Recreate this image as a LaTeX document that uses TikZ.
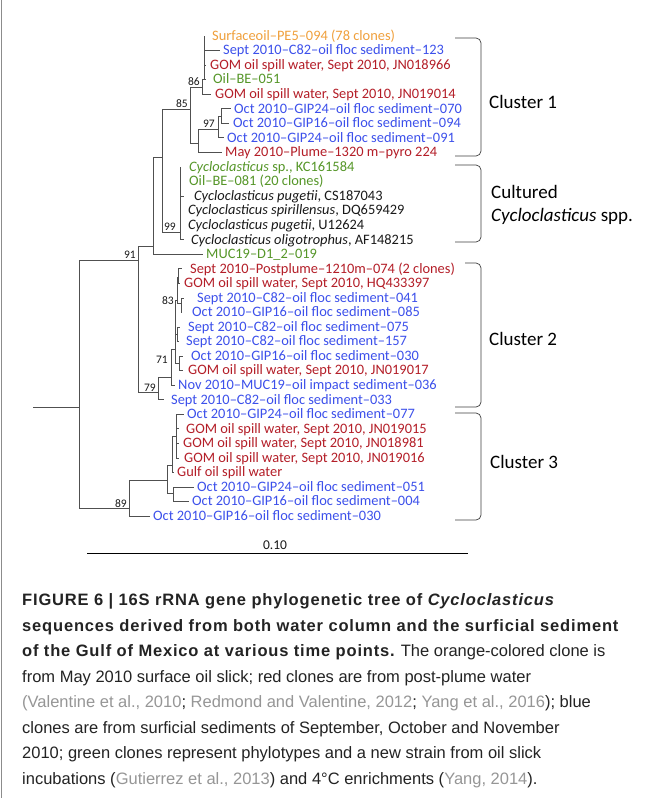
\documentclass[tikz,border=0pt]{standalone}
\usepackage{fontspec}
\setmainfont{Liberation Sans}
\newfontfamily\capbold{Liberation Sans}[LetterSpace=5.0]
\newfontfamily\treefont{Carlito}
\newfontfamily\clfont{Carlito}
\definecolor{tor}{RGB}{240,160,60}
\definecolor{tbl}{RGB}{60,80,235}
\definecolor{trd}{RGB}{180,30,40}
\definecolor{tgr}{RGB}{85,150,40}
\definecolor{tbk}{RGB}{25,25,25}
\definecolor{lin}{RGB}{80,80,80}
\definecolor{captxt}{RGB}{35,35,35}
\definecolor{capgray}{RGB}{150,150,150}
\tikzset{
  br/.style={draw=lin, line width=0.75pt},
  lab/.style={anchor=base west, inner sep=0pt, font=\treefont\fontsize{14.4}{16}\selectfont},
  bs/.style={anchor=base east, inner sep=0pt, font=\treefont\fontsize{11.5}{13}\selectfont, text=tbk},
  brk/.style={draw=black!75, line width=0.7pt},
  cltext/.style={anchor=base west, inner sep=0pt, font=\clfont\fontsize{19}{22}\selectfont, text=black},
  captext/.style={anchor=base west, inner sep=0pt, font=\fontsize{16.5}{20}\selectfont, text=captxt},
}
\begin{document}
\begin{tikzpicture}[x=1pt,y=-1pt]
\useasboundingbox (0,0) rectangle (659,798);
\fill[white] (0,0) rectangle (659,798);
\draw[black!45, line width=0.8pt] (1,0) -- (1,798);
% ---------- tip labels ----------
\node[lab,text=tor] (t0) at (212,40.3) {Surfaceoil–PE5–094 (78 clones)};
\node[lab,text=tbl] (t1) at (223,54.85) {Sept 2010–C82–oil floc sediment–123};
\node[lab,text=trd] (t2) at (210,69.4) {GOM oil spill water, Sept 2010, JN018966};
\node[lab,text=tgr] (t3) at (213,83.95) {Oil–BE–051};
\node[lab,text=trd] (t4) at (215,98.5) {GOM oil spill water, Sept 2010, JN019014};
\node[lab,text=tbl] (t5) at (234,113.05) {Oct 2010–GIP24–oil floc sediment–070};
\node[lab,text=tbl] (t6) at (233,127.6) {Oct 2010–GIP16–oil floc sediment–094};
\node[lab,text=tbl] (t7) at (227,142.15) {Oct 2010–GIP24–oil floc sediment–091};
\node[lab,text=trd] (t8) at (225,156.7) {May 2010–Plume–1320 m–pyro 224};
\node[lab,text=tgr] (t9) at (189,171.25) {\itshape Cycloclasticus\upshape\ sp., KC161584};
\node[lab,text=tgr] (t10) at (189,185.8) {Oil–BE–081 (20 clones)};
\node[lab,text=tbk] (t11) at (194,200.35) {\itshape Cycloclasticus pugetii\upshape, CS187043};
\node[lab,text=tbk] (t12) at (188,214.9) {\itshape Cycloclasticus spirillensus\upshape, DQ659429};
\node[lab,text=tbk] (t13) at (188,229.45) {\itshape Cycloclasticus pugetii\upshape, U12624};
\node[lab,text=tbk] (t14) at (191,244.0) {\itshape Cycloclasticus oligotrophus\upshape, AF148215};
\node[lab,text=tgr] (t15) at (206,258.55) {MUC19–D1\_2–019};
\node[lab,text=trd] (t16) at (190,273.1) {Sept 2010–Postplume–1210m–074 (2 clones)};
\node[lab,text=trd] (t17) at (184,287.65) {GOM oil spill water, Sept 2010, HQ433397};
\node[lab,text=tbl] (t18) at (197,302.2) {Sept 2010–C82–oil floc sediment–041};
\node[lab,text=tbl] (t19) at (192,316.75) {Oct 2010–GIP16–oil floc sediment–085};
\node[lab,text=tbl] (t20) at (188,331.3) {Sept 2010–C82–oil floc sediment–075};
\node[lab,text=tbl] (t21) at (186,345.85) {Sept 2010–C82–oil floc sediment–157};
\node[lab,text=tbl] (t22) at (191,360.4) {Oct 2010–GIP16–oil floc sediment–030};
\node[lab,text=trd] (t23) at (188,374.95) {GOM oil spill water, Sept 2010, JN019017};
\node[lab,text=tbl] (t24) at (178,389.5) {Nov 2010–MUC19–oil impact sediment–036};
\node[lab,text=tbl] (t25) at (171,404.05) {Sept 2010–C82–oil floc sediment–033};
\node[lab,text=tbl] (t26) at (187,418.6) {Oct 2010–GIP24–oil floc sediment–077};
\node[lab,text=trd] (t27) at (186,433.15) {GOM oil spill water, Sept 2010, JN019015};
\node[lab,text=trd] (t28) at (183,447.7) {GOM oil spill water, Sept 2010, JN018981};
\node[lab,text=trd] (t29) at (184,462.25) {GOM oil spill water, Sept 2010, JN019016};
\node[lab,text=trd] (t30) at (177,476.8) {Gulf oil spill water};
\node[lab,text=tbl] (t31) at (197,491.35) {Oct 2010–GIP24–oil floc sediment–051};
\node[lab,text=tbl] (t32) at (192,505.9) {Oct 2010–GIP16–oil floc sediment–004};
\node[lab,text=tbl] (t33) at (153,520.45) {Oct 2010–GIP16–oil floc sediment–030};
% ---------- branch ends ----------
\coordinate (e0) at (205,36.0);
\coordinate (e1) at (220,50.55);
\coordinate (e2) at (206,65.1);
\coordinate (e3) at (206,79.65);
\coordinate (e4) at (211,94.2);
\coordinate (e5) at (231,108.75);
\coordinate (e6) at (229,123.3);
\coordinate (e7) at (224,137.85);
\coordinate (e8) at (222,152.4);
\coordinate (e9) at (181,166.95);
\coordinate (e10) at (181,181.5);
\coordinate (e11) at (184,196.05);
\coordinate (e12) at (181,210.6);
\coordinate (e13) at (181,225.15);
\coordinate (e14) at (184,239.7);
\coordinate (e15) at (203,254.25);
\coordinate (e16) at (182,268.8);
\coordinate (e17) at (180,283.35);
\coordinate (e18) at (184,297.9);
\coordinate (e19) at (182,312.45);
\coordinate (e20) at (180,327.0);
\coordinate (e21) at (179,341.55);
\coordinate (e22) at (183,356.1);
\coordinate (e23) at (183,370.65);
\coordinate (e24) at (175,385.2);
\coordinate (e25) at (164,399.75);
\coordinate (e26) at (184,414.3);
\coordinate (e27) at (179,428.85);
\coordinate (e28) at (179,443.4);
\coordinate (e29) at (179,457.95);
\coordinate (e30) at (174,472.5);
\coordinate (e31) at (194,487.05);
\coordinate (e32) at (189,501.6);
\coordinate (e33) at (150,516.15);
% ---------- internal nodes ----------
\coordinate (r0) at (33,407);
\coordinate (R) at (79,407);
\coordinate (N91) at (138,260);
\coordinate (U) at (153,246);
\coordinate (C) at (162,157);
\coordinate (N85) at (190,109);
\coordinate (N86) at (202,87);
\coordinate (I) at (204,79.65);
\coordinate (A) at (198,143);
\coordinate (N97) at (218,129);
\coordinate (J) at (221,116);
\coordinate (N99) at (180,232);
\coordinate (N79) at (158,392);
\coordinate (V) at (171,377);
\coordinate (W) at (175,349);
\coordinate (N83) at (177,300);
\coordinate (P1) at (178,277);
\coordinate (P2) at (181,303);
\coordinate (P3) at (177,334);
\coordinate (P4) at (179,363);
\coordinate (N89) at (129,508);
\coordinate (S) at (167,480);
\coordinate (T) at (173,493);
\coordinate (G) at (172,465);
\coordinate (Q) at (176,436);
% ---------- branches ----------
\draw[br] (r0) -- (R);
\draw[br] (R) |- (N91);
\draw[br] (R) |- (N89);
\draw[br] (N91) |- (U);
\draw[br] (N91) |- (N79);
\draw[br] (U) |- (C);
\draw[br] (U) |- (e15);
\draw[br] (C) |- (N85);
\draw[br] (C) |- (N99);
\draw[br] (N85) |- (N86);
\draw[br] (N85) |- (A);
\draw[br] (N86) |- (I);
\draw[br] (N86) |- (e4);
\draw[br] (I) |- (e0);
\draw[br] (I) |- (e1);
\draw[br] (I) |- (e2);
\draw[br] (I) |- (e3);
\draw[br] (A) |- (N97);
\draw[br] (A) |- (e8);
\draw[br] (N97) |- (J);
\draw[br] (N97) |- (e7);
\draw[br] (J) |- (e5);
\draw[br] (J) |- (e6);
\foreach \k in {9,...,14} {\draw[br] (N99) |- (e\k);}
\draw[br] (N79) |- (V);
\draw[br] (N79) |- (e25);
\draw[br] (V) |- (W);
\draw[br] (V) |- (e24);
\draw[br] (W) |- (N83);
\draw[br] (W) |- (P3);
\draw[br] (W) |- (P4);
\draw[br] (N83) |- (P1);
\draw[br] (N83) |- (P2);
\draw[br] (P1) |- (e16);
\draw[br] (P1) |- (e17);
\draw[br] (P2) |- (e18);
\draw[br] (P2) |- (e19);
\draw[br] (P3) |- (e20);
\draw[br] (P3) |- (e21);
\draw[br] (P4) |- (e22);
\draw[br] (P4) |- (e23);
\draw[br] (N89) |- (S);
\draw[br] (N89) |- (e33);
\draw[br] (S) |- (G);
\draw[br] (S) |- (T);
\draw[br] (T) |- (e31);
\draw[br] (T) |- (e32);
\draw[br] (G) |- (Q);
\draw[br] (G) |- (e30);
\foreach \k in {26,...,29} {\draw[br] (Q) |- (e\k);}
% ---------- bootstrap values ----------
\node[bs] (b86) at (200,85) {86};
\node[bs] (b85) at (188,107) {85};
\node[bs] (b97) at (215,127) {97};
\node[bs] (b99) at (176,230) {99};
\node[bs] (b91) at (136,258) {91};
\node[bs] (b83) at (174,304) {83};
\node[bs] (b71) at (168,363) {71};
\node[bs] (b79) at (156,391) {79};
\node[bs] (b89) at (127,507) {89};
% ---------- brackets ----------
\draw[brk] (455,38) -- (476,38) to[out=0,in=90] (481,43) -- (481,151) to[out=-90,in=0] (476,156) -- (455,156);
\draw[brk] (455,165) -- (476,165) to[out=0,in=90] (481,170) -- (481,237) to[out=-90,in=0] (476,242) -- (455,242);
\draw[brk] (465,263) -- (476,263) to[out=0,in=90] (481,268) -- (481,402) to[out=-90,in=0] (476,407) -- (455,407);
\draw[brk] (455,413) -- (476,413) to[out=0,in=90] (481,418) -- (481,515) to[out=-90,in=0] (476,520) -- (455,520);
\node[cltext] (c1) at (489,108.5) {Cluster 1};
\node[cltext] (c0a) at (491,198.5) {Cultured};
\node[cltext] (c0b) at (491,221.5) {\itshape Cycloclasticus\upshape\ spp.};
\node[cltext] (c2) at (489,345.5) {Cluster 2};
\node[cltext] (c3) at (490,468.5) {Cluster 3};
% ---------- scale bar ----------
\coordinate (s0) at (87,553);
\coordinate (s1) at (468,553);
\draw[black, line width=0.9pt] (s0) -- (s1);
\node[lab, anchor=base, text=tbk, font=\treefont\fontsize{13.5}{15}\selectfont] (sl) at (275,549) {0.10};
% ---------- caption ----------
\node[captext] (L1) at (22,605.5) {\capbold\bfseries FIGURE 6 | 16S rRNA gene phylogenetic tree of \itshape Cycloclasticus};
\node[captext] (L2) at (22,631) {\capbold\bfseries sequences derived from both water column and the surficial sediment};
\node[captext] (L3) at (22,656.5) {{\capbold\bfseries of the Gulf of Mexico at various time points.} The orange-colored clone is};
\node[captext] (L4) at (22,682) {from May 2010 surface oil slick; red clones are from post-plume water};
\node[captext] (L5) at (22,707.5) {\textcolor{capgray}{(Valentine et al., 2010}; \textcolor{capgray}{Redmond and Valentine, 2012}; \textcolor{capgray}{Yang et al., 2016}); blue};
\node[captext] (L6) at (22,733) {clones are from surficial sediments of September, October and November};
\node[captext] (L7) at (22,758.5) {2010; green clones represent phylotypes and a new strain from oil slick};
\node[captext] (L8) at (22,784) {incubations (\textcolor{capgray}{Gutierrez et al., 2013}) and 4°C enrichments (\textcolor{capgray}{Yang, 2014}).};
\end{tikzpicture}
\end{document}
